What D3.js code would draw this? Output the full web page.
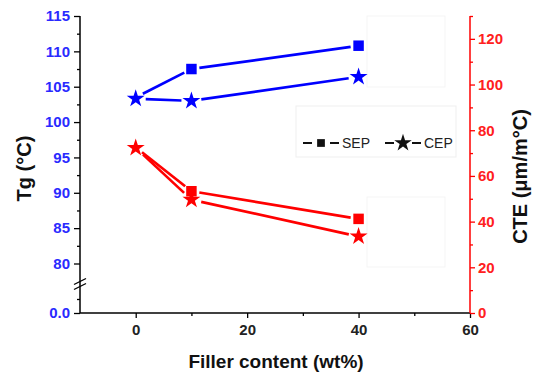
<!DOCTYPE html>
<html>
<head>
<meta charset="utf-8">
<script src="https://cdn.jsdelivr.net/npm/d3@7"></script>
<style>
  body { margin: 0; background: #fff; }
  text { font-family: "Liberation Sans", Arial, sans-serif; }
</style>
</head>
<body>
<div id="chart"></div>
<script>
// Data
var filler = [0, 10, 40];
var tgSEP = [103.5, 107.5, 110.8];
var tgCEP = [103.3, 103.0, 106.4];
var cteSEP = [72.5, 53.3, 41.2];
var cteCEP = [72.3, 49.6, 33.5];
var seriesNames = ["SEP", "CEP"];

var xTicks = [0, 20, 40, 60];
var xMinor = [10, 30, 50];
var tgTicks = [80, 85, 90, 95, 100, 105, 110, 115];
var tgMinor = [82.5, 87.5, 92.5, 97.5, 102.5, 107.5, 112.5];
var cteTicks = [0, 20, 40, 60, 80, 100, 120];
var cteMinor = [10, 30, 50, 70, 90, 110, 130];

var svgWidth = 539, svgHeight = 376;
// plot frame (window.top is reserved, so use other names)
var plotL = 80, plotR = 470, plotT = 16, plotB = 313;
var blue = "#0000ff", red = "#ff0000";

var svg = d3.select("#chart").append("svg")
  .attr("width", svgWidth)
  .attr("height", svgHeight);

// Scales
var x = d3.scaleLinear().domain([-10, 60]).range([plotL, plotR]);
var yTg = d3.scaleLinear().domain([80, 115]).range([263.5, plotT]);
var yLow = d3.scaleLinear().domain([0, 5]).range([plotB, 285]);
var yCte = d3.scaleLinear().domain([0, 130]).range([plotB, plotT]);

// faint boxes seen in the background
[[367, 16, 445, 87], [367, 197, 445, 267]].forEach(function(b) {
  svg.append("rect").attr("x", b[0]).attr("y", b[1])
    .attr("width", b[2] - b[0]).attr("height", b[3] - b[1])
    .attr("fill", "none").attr("stroke", "#f5f5f5");
});

function styleAxis(g, color, labelColor) {
  g.select(".domain").remove();
  g.selectAll("line").attr("stroke", color).attr("stroke-width", 1.3);
  g.selectAll("text")
    .attr("fill", labelColor)
    .style("font-size", "15px")
    .style("font-weight", "bold");
}

// X axis
var gx = svg.append("g").attr("transform", "translate(0," + plotB + ")")
  .call(d3.axisBottom(x).tickValues(xTicks).tickSize(5).tickPadding(6));
styleAxis(gx, "#000", "#222");
var gxm = svg.append("g").attr("transform", "translate(0," + plotB + ")")
  .call(d3.axisBottom(x).tickValues(xMinor).tickSize(3).tickFormat(""));
styleAxis(gxm, "#000", "#222");
svg.append("line").attr("x1", plotL).attr("x2", plotR)
  .attr("y1", plotB).attr("y2", plotB)
  .attr("stroke", "#000").attr("stroke-width", 1.5);

// Left axis (Tg) with break
var gl = svg.append("g").attr("transform", "translate(" + plotL + ",0)")
  .call(d3.axisLeft(yTg).tickValues(tgTicks).tickSize(6).tickPadding(4));
styleAxis(gl, "#000", "#2a2aff");
var glm = svg.append("g").attr("transform", "translate(" + plotL + ",0)")
  .call(d3.axisLeft(yTg).tickValues(tgMinor).tickSize(3).tickFormat(""));
styleAxis(glm, "#000", "#2a2aff");
var gll = svg.append("g").attr("transform", "translate(" + plotL + ",0)")
  .call(d3.axisLeft(yLow).tickValues([0]).tickSize(6).tickPadding(4).tickFormat(d3.format(".1f")));
styleAxis(gll, "#000", "#2a2aff");
var gllm = svg.append("g").attr("transform", "translate(" + plotL + ",0)")
  .call(d3.axisLeft(yLow).tickValues([2.5]).tickSize(3).tickFormat(""));
styleAxis(gllm, "#000", "#2a2aff");
svg.append("line").attr("x1", plotL).attr("x2", plotL)
  .attr("y1", plotT).attr("y2", plotB)
  .attr("stroke", "#000").attr("stroke-width", 1.5);
[281.5, 286.5].forEach(function(yb) {
  svg.append("line")
    .attr("x1", plotL - 6).attr("y1", yb + 3)
    .attr("x2", plotL + 6).attr("y2", yb - 3)
    .attr("stroke", "#000").attr("stroke-width", 1.3);
});

// Right axis (CTE)
var gr = svg.append("g").attr("transform", "translate(" + plotR + ",0)")
  .call(d3.axisRight(yCte).tickValues(cteTicks).tickSize(5).tickPadding(3));
styleAxis(gr, red, "#ff2020");
var grm = svg.append("g").attr("transform", "translate(" + plotR + ",0)")
  .call(d3.axisRight(yCte).tickValues(cteMinor).tickSize(3).tickFormat(""));
styleAxis(grm, red, red);
svg.append("line").attr("x1", plotR).attr("x2", plotR)
  .attr("y1", plotT).attr("y2", plotB)
  .attr("stroke", red).attr("stroke-width", 1.5);

// Axis titles
svg.append("text")
  .attr("transform", "translate(31," + ((plotT + plotB) / 2 + 4) + ") rotate(-90)")
  .attr("text-anchor", "middle")
  .style("font-size", "20px").style("font-weight", "bold")
  .attr("fill", "#111")
  .text("Tg (°C)");
svg.append("text")
  .attr("transform", "translate(527," + ((plotT + plotB) / 2 + 12) + ") rotate(-90)")
  .attr("text-anchor", "middle")
  .style("font-size", "20px").style("font-weight", "bold")
  .attr("fill", "#111")
  .text("CTE (μm/m°C)");
svg.append("text")
  .attr("x", 276).attr("y", 368)
  .attr("text-anchor", "middle")
  .style("font-size", "19px").style("font-weight", "bold")
  .attr("fill", "#111")
  .text("Filler content (wt%)");

// Markers
var square = d3.symbol().type(d3.symbolSquare).size(110);
var star = d3.symbol().type(d3.symbolStar).size(100);

// draws segments between points, leaving a small gap round each marker;
// the neat-resin point (filler 0) is shared, so only the star shows there
function drawSeries(vals, yScale, color, shape, gap, skipFirst) {
  var pts = filler.map(function(f, i) { return [x(f), yScale(vals[i])]; });
  for (var i = 0; i < pts.length - 1; i++) {
    var a = pts[i], b = pts[i + 1];
    var dx = b[0] - a[0], dy = b[1] - a[1];
    var len = Math.sqrt(dx * dx + dy * dy);
    var ux = dx / len, uy = dy / len;
    svg.append("path")
      .attr("d", d3.line()([[a[0] + ux * gap, a[1] + uy * gap], [b[0] - ux * gap, b[1] - uy * gap]]))
      .attr("stroke", color).attr("stroke-width", 2.7).attr("fill", "none");
  }
  svg.selectAll(null).data(skipFirst ? pts.slice(1) : pts).enter().append("path")
    .attr("d", shape)
    .attr("transform", function(p) { return "translate(" + p[0] + "," + p[1] + ")"; })
    .attr("fill", color);
}

drawSeries(tgSEP, yTg, blue, square, 8, true);
drawSeries(tgCEP, yTg, blue, star, 10, false);
drawSeries(cteSEP, yCte, red, square, 8, true);
drawSeries(cteCEP, yCte, red, star, 10, false);

// Legend
var legend = svg.append("g");
legend.append("rect")
  .attr("x", 296).attr("y", 106).attr("width", 160).attr("height", 51)
  .attr("fill", "#fff").attr("stroke", "#efefef");
var legendX = [321, 403];
seriesNames.forEach(function(name, i) {
  var cx = legendX[i], cy = 143;
  legend.append("line").attr("x1", cx - 18).attr("x2", cx - 9)
    .attr("y1", cy).attr("y2", cy).attr("stroke", "#111").attr("stroke-width", 2);
  legend.append("line").attr("x1", cx + 9).attr("x2", cx + 18)
    .attr("y1", cy).attr("y2", cy).attr("stroke", "#111").attr("stroke-width", 2);
  legend.append("path")
    .attr("d", i === 0 ? d3.symbol().type(d3.symbolSquare).size(60)() : d3.symbol().type(d3.symbolStar).size(95)())
    .attr("transform", "translate(" + cx + "," + cy + ")")
    .attr("fill", "#111");
  legend.append("text")
    .attr("x", cx + 21).attr("y", cy + 5)
    .style("font-size", "14px")
    .attr("fill", "#222")
    .text(name);
});
</script>
</body>
</html>
